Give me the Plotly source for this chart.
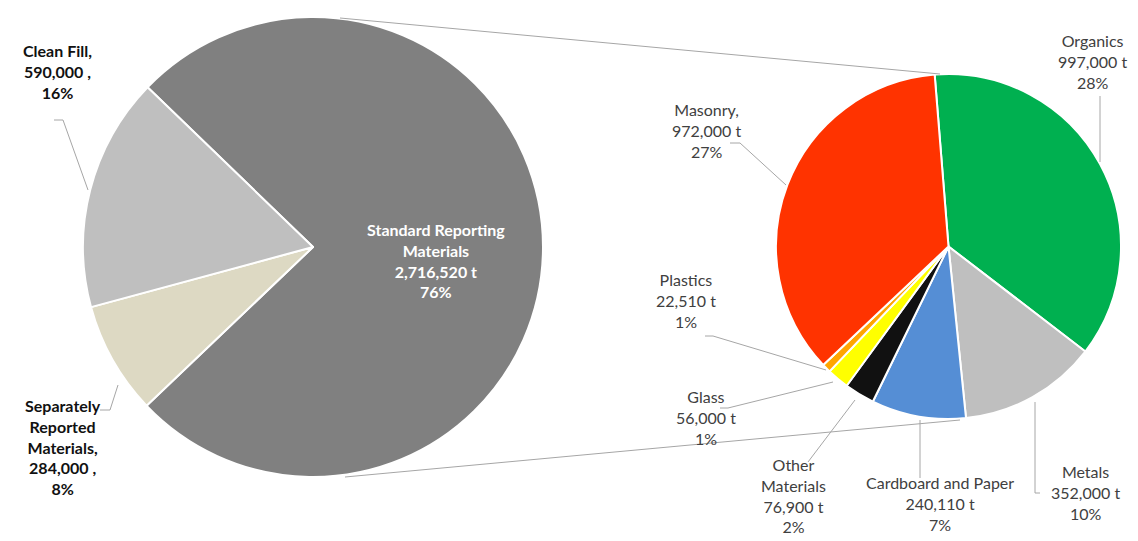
import plotly.graph_objects as go

# browser body margin offset (page has 8px default margin)
OFF = 8
W, H = 1138 - OFF, 541 - OFF

# ---- data ----
left_labels = ["Standard Reporting Materials", "Separately Reported Materials", "Clean Fill"]
left_values = [2716520, 284000, 590000]
left_pct = [76, 8, 16]
left_colors = ["#808080", "#DDD9C3", "#BFBFBF"]

right_labels = ["Organics", "Metals", "Cardboard and Paper", "Other Materials", "Glass", "Plastics", "Masonry"]
right_values = [997000, 352000, 240110, 76900, 56000, 22510, 972000]
right_pct = [28, 10, 7, 2, 1, 1, 27]
right_colors = ["#00B050", "#BFBFBF", "#558ED5", "#111111", "#FFFF00", "#FFA500", "#FF3300"]

# ---- geometry (screen pixels) ----
L_CX, L_CY, L_R = 313, 247, 230
R_CX, R_CY, R_R = 948.5, 246.5, 172.5


def P(x, y):
    return (x - OFF) / W, 1 - (y - OFF) / H


def dom(cx, cy, r):
    x0, y1 = P(cx - r, cy - r)
    x1, y0 = P(cx + r, cy + r)
    return dict(x=[x0, x1], y=[y0, y1])


fig = go.Figure()
fig.add_trace(go.Pie(
    labels=left_labels, values=left_values, sort=False, direction="clockwise",
    rotation=-46, domain=dom(L_CX, L_CY, L_R), textinfo="none",
    marker=dict(colors=left_colors, line=dict(color="white", width=2)),
    showlegend=False,
))
fig.add_trace(go.Pie(
    labels=right_labels, values=right_values, sort=False, direction="clockwise",
    rotation=-4.6, domain=dom(R_CX, R_CY, R_R), textinfo="none",
    marker=dict(colors=right_colors, line=dict(color="white", width=2)),
    showlegend=False,
))

FONT = "Lato, Calibri, sans-serif"
annotations = []


def add_label(text, x, y, color="#404040", bold=False, size=16):
    ax, ay = P(x, y)
    annotations.append(dict(
        text=f"<b>{text}</b>" if bold else text, x=ax, y=ay, xref="paper", yref="paper",
        xanchor="center", yanchor="middle", showarrow=False, align="center",
        font=dict(family=FONT, size=size, color=color),
    ))


def fmt(v):
    return f"{v:,}"


# left labels
add_label(f"{left_labels[2]},<br>{fmt(left_values[2])} ,<br>{left_pct[2]}%", 57, 71, color="#111111", bold=True)
add_label(f"Separately<br>Reported<br>Materials,<br>{fmt(left_values[1])} ,<br>{left_pct[1]}%", 63, 447, color="#111111", bold=True)
add_label(f"Standard Reporting<br>Materials<br>{fmt(left_values[0])} t<br>{left_pct[0]}%", 436, 260, color="white", bold=True)

# right labels
pos = {
    "Organics": (1092, 61),
    "Metals": (1085, 492),
    "Cardboard and Paper": (940, 503),
    "Other Materials": (794, 495),
    "Glass": (706, 417),
    "Plastics": (686, 300),
    "Masonry": (706, 130),
}
for lab, v, p in zip(right_labels, right_values, right_pct):
    x, y = pos[lab]
    if lab == "Masonry":
        txt = f"{lab},<br>{fmt(v)} t<br>{p}%"
    elif lab == "Other Materials":
        txt = f"Other<br>Materials<br>{fmt(v)} t<br>{p}%"
    else:
        txt = f"{lab}<br>{fmt(v)} t<br>{p}%"
    add_label(txt, x, y)

# leader lines and connector lines (screen pixel paths)
lines = [
    [(54, 120), (63, 120), (88, 190)],            # Clean Fill
    [(100, 410), (110, 410), (118, 385)],         # Separately
    [(730, 143), (740, 143), (786, 185)],         # Masonry
    [(1100, 96), (1100, 162)],                    # Organics
    [(705, 336), (713, 336), (826, 370)],         # Plastics
    [(720, 408), (728, 408), (833, 382)],         # Glass
    [(808, 462), (855, 400)],                     # Other
    [(920, 420), (920, 478)],                     # Cardboard
    [(1040, 493), (1035, 493), (1035, 402)],      # Metals
    [(340, 18), (940, 74)],                       # top connector
    [(345, 477), (960, 420)],                     # bottom connector
]
shapes = []
for pts in lines:
    path = "M " + " L ".join("{},{}".format(*P(x, y)) for x, y in pts)
    shapes.append(dict(type="path", path=path, xref="paper", yref="paper",
                       line=dict(color="#A6A6A6", width=1)))

fig.update_layout(
    width=W, height=H, margin=dict(l=0, r=0, t=0, b=0),
    paper_bgcolor="white", plot_bgcolor="white",
    annotations=annotations, shapes=shapes,
)
fig.write_html("out.html")
